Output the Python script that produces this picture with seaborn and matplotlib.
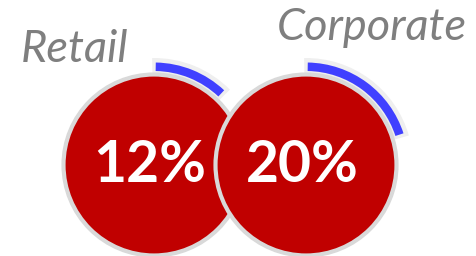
import matplotlib
matplotlib.use("Agg")
import matplotlib.pyplot as plt
from matplotlib.patches import Circle, Wedge
import seaborn as sns

# data
segments = ["Retail", "Corporate"]
shares = [12, 20]
value_labels = ["12%", "20%"]

# layout (pixels, y measured from bottom)
centers_x = [154, 306]
center_y = 256 - 165
label_pos = [(75, 256 - 62), (372, 256 - 40)]

sns.set_theme(style="white")
plt.rcParams['font.family'] = ['Lato', 'DejaVu Sans']

fig = plt.figure(figsize=(4.77, 2.56), dpi=100)
ax = fig.add_axes([0, 0, 1, 1])
ax.set_xlim(0, 477)
ax.set_ylim(0, 256)
ax.set_aspect('equal')
ax.axis('off')

for i, (seg, share, lab) in enumerate(zip(segments, shares, value_labels)):
    cx = centers_x[i]
    sweep = share * 3.6
    # faint track behind the progress arc
    ax.add_patch(Wedge((cx, center_y), 107, 90 - sweep - 2, 91, width=16,
                       facecolor='#efefef', edgecolor='none', zorder=2 * i + 1))
    ax.add_patch(Wedge((cx, center_y), 102.5, 90 - sweep, 89, width=8.5,
                       facecolor='#4040ff', edgecolor='none', zorder=2 * i + 1.5))
    ax.add_patch(Circle((cx, center_y), 90.5, facecolor='#c00000',
                        edgecolor='#d9d9d9', linewidth=3, zorder=2 * i + 2))
    ax.text(cx - 4, center_y - 1, lab, ha='center', va='center', color='white',
            fontsize=41, fontweight='bold', zorder=10)
    ax.text(label_pos[i][0], label_pos[i][1], seg, ha='center', va='baseline',
            color='#7f7f7f', fontsize=32.5, style='italic', zorder=10)

fig.savefig('out.png', dpi=100)
